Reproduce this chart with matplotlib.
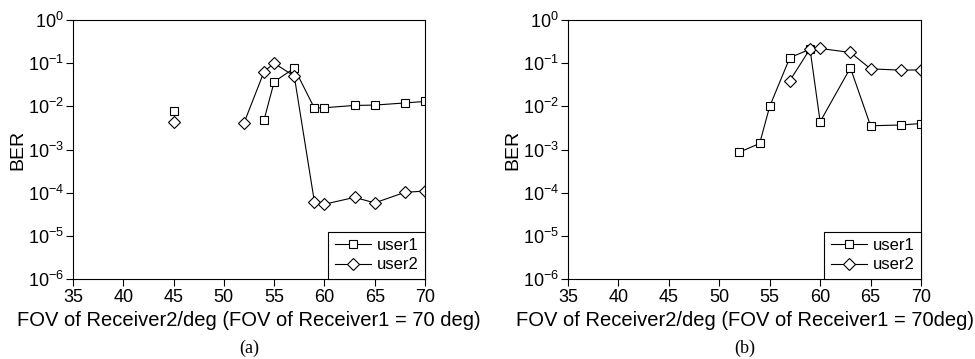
#!/usr/bin/env python3
"""BER vs FOV of receiver 2, two panels"""

import numpy as np
import matplotlib
matplotlib.use('Agg')
import matplotlib.pyplot as plt
from matplotlib.ticker import LogLocator, NullLocator

plt.rcParams['font.family'] = ['Liberation Sans', 'DejaVu Sans']
plt.rcParams['mathtext.fontset'] = 'custom'
plt.rcParams['mathtext.rm'] = 'Liberation Sans'
plt.rcParams['mathtext.it'] = 'Liberation Sans:italic'

# panel (a): isolated points at 45 deg, then the connected curves
a_iso_x = [45]
a_user1_iso = [7.8e-3]
a_user2_iso = [4.4e-3]
a_user1_x = [54, 55, 57, 59, 60, 63, 65, 68, 70]
a_user1_y = [4.9e-3, 3.7e-2, 7.7e-2, 9.1e-3, 9.3e-3, 1.05e-2, 1.07e-2, 1.2e-2, 1.3e-2]
a_user2_x = [52, 54, 55, 57, 59, 60, 63, 65, 68, 70]
a_user2_y = [4.1e-3, 6.4e-2, 1.0e-1, 5.0e-2, 6.2e-5, 5.4e-5, 7.8e-5, 5.8e-5, 1.02e-4, 1.09e-4]

# panel (b)
b_user1_x = [52, 54, 55, 57, 59, 60, 63, 65, 68, 70]
b_user1_y = [8.7e-4, 1.38e-3, 1.0e-2, 1.35e-1, 2.1e-1, 4.4e-3, 7.8e-2, 3.55e-3, 3.7e-3, 4.0e-3]
b_user2_x = [57, 59, 60, 63, 65, 68, 70]
b_user2_y = [3.95e-2, 2.15e-1, 2.2e-1, 1.77e-1, 7.4e-2, 6.9e-2, 7.0e-2]

xticks = [35, 40, 45, 50, 55, 60, 65, 70]
xlabels = ['FOV of Receiver2/deg (FOV of Receiver1 = 70 deg)',
           'FOV of Receiver2/deg (FOV of Receiver1 = 70deg)']
captions = ['(a)', '(b)']

sq = dict(marker='s', markersize=5.5, markerfacecolor='white',
          markeredgecolor='black', markeredgewidth=0.8)
dm = dict(marker='D', markersize=6, markerfacecolor='white',
          markeredgecolor='black', markeredgewidth=0.8)
line_kw = dict(color='black', linewidth=0.8)


def style_axes(ax, xlabel):
    ax.set_yscale('log')
    ax.set_xlim(35, 70)
    ax.set_ylim(1e-6, 1)
    ax.set_xticks(xticks)
    ax.yaxis.set_major_locator(LogLocator(base=10, numticks=10))
    ax.yaxis.set_minor_locator(NullLocator())
    ax.tick_params(axis='both', direction='out', length=5, width=0.8,
                   labelsize=13, pad=1.5)
    ax.tick_params(axis='x', pad=2.5)
    ax.set_xlabel(xlabel, fontsize=14.5, labelpad=3)
    ax.set_ylabel('BER', fontsize=14, labelpad=1)
    for sp in ax.spines.values():
        sp.set_linewidth(0.8)
    ax.set_zorder(1)
    leg = ax.legend(loc='lower right', borderaxespad=0, fancybox=False,
                    edgecolor='black', framealpha=1, fontsize=12,
                    handlelength=2.2, handletextpad=0.3, borderpad=0.4,
                    labelspacing=0.25)
    leg.get_frame().set_linewidth(0.8)


fig = plt.figure(figsize=(9.75, 3.59), dpi=100)
ax1 = fig.add_axes([0.0749, 0.2228, 0.361, 0.7214])
ax2 = fig.add_axes([0.5826, 0.2228, 0.362, 0.7214])

# (a)
ax1.plot(a_user1_x, a_user1_y, label='user1', **line_kw, **sq)
ax1.plot(a_user2_x, a_user2_y, label='user2', **line_kw, **dm)
ax1.plot(a_iso_x, a_user1_iso, linestyle='none', **sq)
ax1.plot(a_iso_x, a_user2_iso, linestyle='none', **dm)
style_axes(ax1, xlabels[0])

# (b)
ax2.plot(b_user1_x, b_user1_y, label='user1', **line_kw, **sq)
ax2.plot(b_user2_x, b_user2_y, label='user2', **line_kw, **dm)
style_axes(ax2, xlabels[1])

for ax, cap in zip([ax1, ax2], captions):
    pos = ax.get_position()
    fig.text(pos.x0 + pos.width / 2, 1 - 348 / 359, cap, ha='center',
             va='center', fontsize=13, family='Liberation Serif')

fig.savefig('out.png', dpi=100)
